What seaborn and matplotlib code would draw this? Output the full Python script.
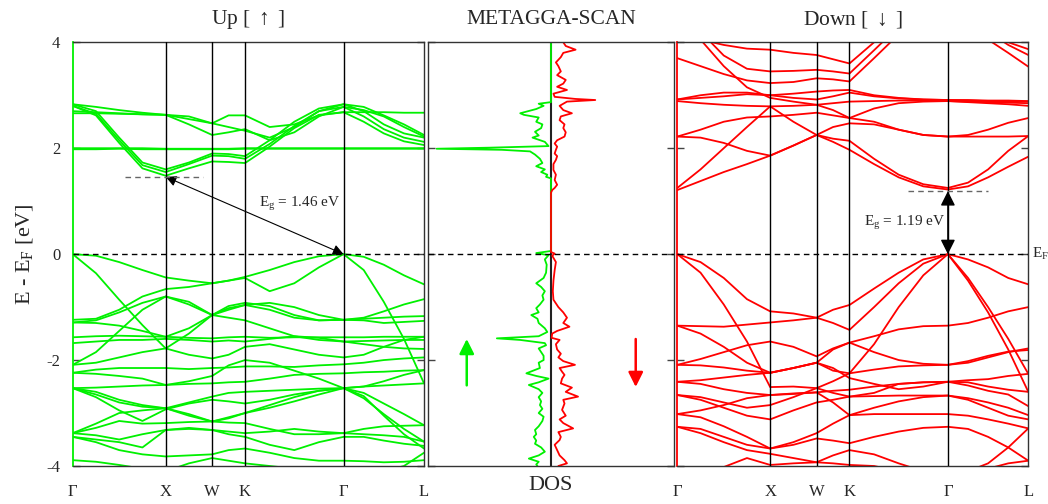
import numpy as np
import pandas as pd
import matplotlib
matplotlib.use('Agg')
import matplotlib.pyplot as plt
import seaborn as sns

# k-path (fcc, units of 2pi/a) and sampling grid used for the bands
node_k = [0.0, 1.0, 1.5, 1.854, 2.914, 3.780]
node_lab = ['Γ', 'X', 'W', 'K', 'Γ', 'L']
kpts = [0.0, 0.25, 0.5, 0.75, 1.0, 1.25, 1.5, 1.677, 1.854,
        2.119, 2.384, 2.649, 2.914, 3.131, 3.347, 3.564, 3.780]

# spin up bands (eV) at kpts
up_bands = {
    'c1': [2.80, 2.62, 2.10, 1.62, 1.48, 1.62, 1.75, 1.74, 1.72, 2.03, 2.38, 2.63, 2.68, 2.50, 2.28, 2.13, 2.06],
    'c2': [2.80, 2.65, 2.15, 1.68, 1.55, 1.70, 1.86, 1.85, 1.80, 2.08, 2.42, 2.70, 2.78, 2.60, 2.36, 2.20, 2.12],
    'c3': [2.83, 2.70, 2.20, 1.73, 1.60, 1.73, 1.90, 1.89, 1.85, 2.15, 2.50, 2.75, 2.83, 2.70, 2.45, 2.28, 2.20],
    'c4': [2.66, 2.66, 2.65, 2.64, 2.63, 2.55, 2.47, 2.62, 2.62, 2.40, 2.45, 2.62, 2.68, 2.68, 2.68, 2.67, 2.67],
    'c5': [2.70, 2.68, 2.66, 2.64, 2.63, 2.45, 2.25, 2.30, 2.36, 2.15, 2.30, 2.60, 2.78, 2.72, 2.60, 2.40, 2.22],
    'c6': [2.83, 2.78, 2.72, 2.67, 2.63, 2.60, 2.47, 2.40, 2.33, 2.20, 2.40, 2.70, 2.83, 2.78, 2.62, 2.45, 2.25],
    'f1': [2.00, 2.00, 2.00, 2.00, 1.99, 1.99, 1.99, 1.99, 2.00, 2.00, 2.00, 2.00, 2.00, 2.00, 2.00, 2.00, 2.00],
    'f2': [1.98, 1.98, 1.99, 1.98, 1.98, 1.98, 1.98, 1.98, 1.99, 1.99, 1.99, 1.99, 1.99, 1.99, 1.99, 1.99, 1.99],
    'v1': [0.00, -0.03, -0.15, -0.30, -0.44, -0.50, -0.55, -0.50, -0.43, -0.30, -0.15, -0.04, 0.00, -0.05, -0.20, -0.40, -0.57],
    'v2': [0.00, -0.36, -0.86, -1.34, -1.78, -1.50, -1.15, -1.05, -0.96, -1.05, -1.20, -1.25, -1.24, -1.20, -1.08, -0.95, -0.85],
    'v3': [-1.24, -1.22, -1.05, -0.80, -0.66, -0.62, -0.55, -0.50, -0.45, -0.70, -0.55, -0.25, 0.00, -0.30, -0.90, -1.60, -2.44],
    'v4': [-1.29, -1.25, -1.10, -0.92, -0.80, -0.95, -1.15, -0.98, -0.92, -0.98, -1.15, -1.25, -1.24, -1.25, -1.30, -1.28, -1.26],
    'v5': [-1.57, -1.55, -1.54, -1.55, -1.56, -1.58, -1.59, -1.57, -1.56, -1.58, -1.57, -1.57, -1.57, -1.57, -1.56, -1.56, -1.56],
    'v6': [-1.68, -1.65, -1.62, -1.62, -1.60, -1.62, -1.65, -1.63, -1.65, -1.60, -1.55, -1.58, -1.65, -1.64, -1.63, -1.62, -1.62],
    'v7': [-2.09, -1.85, -1.45, -1.05, -0.80, -0.90, -1.15, -1.20, -1.25, -1.40, -1.55, -1.62, -1.65, -1.70, -1.75, -1.78, -1.79],
    'v8': [-2.09, -2.05, -1.95, -1.85, -1.78, -1.90, -1.97, -1.90, -1.75, -1.70, -1.80, -1.90, -1.95, -1.90, -1.75, -1.62, -1.56],
    'v9': [-2.24, -2.18, -2.15, -2.15, -2.15, -2.17, -2.15, -2.14, -2.12, -2.12, -2.13, -2.10, -2.08, -2.05, -2.00, -1.97, -1.95],
    'v10': [-2.24, -2.26, -2.30, -2.35, -2.47, -2.45, -2.44, -2.42, -2.41, -2.35, -2.28, -2.26, -2.25, -2.23, -2.22, -2.20, -2.19],
    'v11': [-2.53, -2.52, -2.50, -2.48, -2.47, -2.40, -2.30, -2.10, -2.00, -2.05, -2.20, -2.35, -2.53, -2.50, -2.48, -2.46, -2.44],
    'v12': [-2.53, -2.60, -2.75, -2.85, -2.91, -2.80, -2.69, -2.62, -2.60, -2.58, -2.56, -2.54, -2.53, -2.62, -2.82, -3.02, -3.23],
    'v13': [-2.53, -2.70, -2.95, -3.15, -2.93, -2.82, -2.75, -2.78, -2.82, -2.75, -2.65, -2.58, -2.53, -2.72, -3.02, -3.30, -3.54],
    'v14': [-3.38, -3.20, -3.00, -2.95, -2.91, -3.05, -3.16, -3.08, -3.00, -2.90, -2.78, -2.65, -2.53, -2.68, -3.05, -3.40, -3.67],
    'v15': [-3.38, -3.28, -3.15, -3.20, -3.19, -3.17, -3.16, -3.18, -3.19, -3.30, -3.40, -3.40, -3.38, -3.40, -3.42, -3.45, -3.54],
    'v16': [-3.45, -3.50, -3.55, -3.65, -3.32, -3.28, -3.32, -3.40, -3.45, -3.60, -3.70, -3.55, -3.45, -3.45, -3.52, -3.58, -3.62],
    'v17': [-3.45, -3.55, -3.70, -3.78, -3.82, -3.80, -3.78, -3.70, -3.67, -3.75, -3.85, -3.90, -3.90, -3.91, -3.93, -3.92, -3.89],
    'v18': [-3.89, -3.92, -3.98, -4.05, -4.10, -3.95, -3.85, -3.90, -3.95, -4.00, -4.05, -4.10, -4.20, -4.20, -4.10, -4.00, -3.75],
    'v19': [-1.29, -1.30, -1.35, -1.45, -1.56, -1.40, -1.15, -1.02, -0.96, -0.92, -1.00, -1.15, -1.24, -1.22, -1.20, -1.18, -1.17],
    'v20': [-2.53, -2.65, -2.80, -2.88, -2.91, -3.02, -3.16, -3.10, -3.00, -2.85, -2.70, -2.58, -2.53, -2.50, -2.40, -2.28, -2.19],
    'v21': [-3.38, -3.42, -3.50, -3.40, -3.32, -3.30, -3.32, -3.35, -3.38, -3.35, -3.30, -3.35, -3.38, -3.30, -3.25, -3.24, -3.23],
}

# spin down bands (eV) at kpts
dn_bands = {
    'c1': [1.21, 1.38, 1.55, 1.70, 1.86, 2.05, 2.25, 2.12, 1.97, 1.70, 1.45, 1.28, 1.22, 1.28, 1.45, 1.65, 1.84],
    'c2': [1.25, 1.60, 2.00, 2.40, 2.79, 2.50, 2.25, 2.18, 2.14, 1.80, 1.50, 1.32, 1.25, 1.35, 1.60, 1.95, 2.23],
    'c3': [2.22, 2.20, 2.10, 1.95, 1.86, 2.05, 2.25, 2.40, 2.47, 2.45, 2.35, 2.25, 2.22, 2.25, 2.35, 2.48, 2.57],
    'c4': [2.22, 2.35, 2.50, 2.58, 2.60, 2.63, 2.67, 2.62, 2.57, 2.50, 2.35, 2.25, 2.22, 2.22, 2.22, 2.22, 2.23],
    'c5': [2.89, 2.85, 2.82, 2.80, 2.79, 2.80, 2.82, 2.85, 2.88, 2.89, 2.90, 2.90, 2.89, 2.87, 2.85, 2.83, 2.80],
    'c6': [2.92, 2.95, 2.98, 3.02, 3.00, 2.95, 2.92, 2.98, 3.05, 2.98, 2.94, 2.92, 2.91, 2.90, 2.89, 2.88, 2.88],
    'c7': [2.92, 3.00, 3.05, 3.05, 3.00, 3.03, 3.07, 3.09, 3.10, 3.00, 2.95, 2.92, 2.91, 2.91, 2.90, 2.90, 2.89],
    'c8': [4.60, 4.05, 3.55, 3.15, 2.95, 2.88, 2.82, 2.72, 2.57, 2.75, 2.85, 2.88, 2.89, 2.88, 2.87, 2.86, 2.85],
    'c9': [4.80, 4.20, 3.75, 3.50, 3.45, 3.46, 3.48, 3.45, 3.41, 3.85, 4.30, 4.60, 4.70, 4.40, 4.05, 3.80, 3.54],
    'c10': [4.30, 4.05, 3.95, 3.88, 3.86, 3.80, 3.76, 3.68, 3.60, 4.00, 4.40, 4.70, 4.80, 4.55, 4.20, 3.95, 3.76],
    'c11': [3.70, 3.55, 3.40, 3.28, 3.23, 3.25, 3.32, 3.30, 3.26, 3.70, 4.15, 4.50, 4.60, 4.45, 4.20, 4.00, 3.87],
    'v1': [0.00, -0.15, -0.45, -0.85, -1.08, -1.12, -1.20, -1.05, -0.96, -0.65, -0.35, -0.10, 0.00, -0.10, -0.25, -0.45, -0.57],
    'v2': [0.00, -0.35, -0.95, -1.65, -2.51, -2.50, -2.53, -2.40, -2.25, -1.70, -1.00, -0.40, 0.00, -0.50, -1.10, -1.80, -2.60],
    'v3': [-1.35, -1.36, -1.37, -1.33, -1.29, -1.25, -1.20, -1.30, -1.43, -1.00, -0.55, -0.18, 0.00, -0.45, -1.00, -1.60, -2.26],
    'v4': [-1.35, -1.50, -1.75, -2.05, -2.24, -2.15, -2.05, -1.80, -1.67, -1.55, -1.42, -1.36, -1.35, -1.30, -1.20, -1.08, -1.00],
    'v5': [-2.09, -1.98, -1.85, -1.72, -1.65, -1.75, -1.93, -1.78, -1.67, -1.85, -2.00, -2.07, -2.09, -2.02, -1.92, -1.84, -1.81],
    'v6': [-2.09, -2.10, -2.14, -2.20, -2.24, -2.15, -2.05, -2.20, -2.25, -2.18, -2.12, -2.10, -2.09, -2.05, -1.95, -1.85, -1.78],
    'v7': [-2.41, -2.45, -2.55, -2.62, -2.66, -2.64, -2.61, -2.58, -2.56, -2.50, -2.45, -2.42, -2.41, -2.48, -2.58, -2.65, -2.87],
    'v8': [-2.41, -2.38, -2.33, -2.28, -2.24, -2.15, -2.05, -2.15, -2.34, -2.45, -2.55, -2.50, -2.41, -2.38, -2.36, -2.30, -2.26],
    'v9': [-2.66, -2.75, -2.90, -3.05, -3.12, -2.95, -2.80, -2.75, -2.69, -2.68, -2.67, -2.67, -2.67, -2.72, -2.80, -2.90, -3.04],
    'v10': [-3.02, -2.95, -2.85, -2.72, -2.66, -2.63, -2.61, -2.80, -3.04, -2.90, -2.78, -2.70, -2.67, -2.75, -2.90, -3.05, -3.12],
    'v11': [-3.02, -3.08, -3.25, -3.45, -3.67, -3.55, -3.38, -3.20, -3.04, -3.02, -3.02, -3.02, -3.02, -3.05, -3.12, -3.20, -3.29],
    'v12': [-3.26, -3.30, -3.45, -3.60, -3.67, -3.60, -3.48, -3.52, -3.57, -3.45, -3.35, -3.28, -3.26, -3.30, -3.45, -3.65, -3.90],
    'v13': [-3.26, -3.38, -3.55, -3.70, -3.77, -3.85, -3.93, -3.80, -3.70, -3.78, -3.95, -4.10, -4.20, -4.10, -3.95, -3.65, -3.29],
    'v14': [-4.40, -4.20, -4.02, -3.85, -3.98, -3.95, -3.93, -3.95, -3.98, -4.00, -4.10, -4.20, -4.30, -4.20, -4.05, -3.95, -3.90],
    'v15': [-2.66, -2.70, -2.80, -2.90, -2.85, -2.70, -2.53, -2.62, -2.69, -2.62, -2.45, -2.42, -2.41, -2.42, -2.50, -2.56, -2.60],
}

# DOS, spin up drawn to the left (negative), spin down to the right
dos_up_e = [4.0, 2.87, 2.84, 2.80, 2.74, 2.66, 2.63, 2.58, 2.50, 2.45, 2.38, 2.31, 2.24, 2.20, 2.12, 2.04, 2.01, 1.99,
            1.97, 1.94, 1.88, 1.80, 1.72, 1.66, 1.60, 1.55, 1.50, 1.46, 1.43, 0.06, 0.02, -0.02, -0.10, -0.20, -0.35,
            -0.45, -0.55, -0.62, -0.70, -0.78, -0.86, -0.95, -1.02, -1.10, -1.15, -1.22, -1.30, -1.40, -1.47, -1.55,
            -1.59, -1.62, -1.68, -1.72, -1.78, -1.85, -1.92, -2.00, -2.05, -2.15, -2.25, -2.30, -2.35, -2.42, -2.47,
            -2.55, -2.62, -2.70, -2.78, -2.85, -2.92, -3.00, -3.07, -3.15, -3.25, -3.32, -3.40, -3.45, -3.52, -3.58,
            -3.65, -3.73, -3.80, -3.86, -3.92, -3.97, -4.0]
dos_up = [0, 0, -0.10, -0.06, -0.12, -0.25, -0.22, -0.10, -0.12, -0.07, -0.08, -0.13, -0.10, -0.15, -0.05, -0.02, -0.50,
          -0.93, -0.40, -0.17, -0.13, -0.09, -0.07, -0.12, -0.05, -0.08, -0.03, -0.04, 0, 0, -0.12, -0.02, -0.05,
          -0.035, -0.04, -0.06, -0.12, -0.08, -0.05, -0.07, -0.06, -0.09, -0.12, -0.10, -0.16, -0.11, -0.10, -0.05,
          -0.03, -0.10, -0.44, -0.25, -0.05, -0.04, -0.10, -0.08, -0.06, -0.06, -0.10, -0.09, -0.20, -0.12, -0.02,
          -0.10, -0.18, -0.10, -0.07, -0.10, -0.08, -0.09, -0.07, -0.10, -0.06, -0.07, -0.10, -0.13, -0.12, -0.14,
          -0.12, -0.13, -0.08, -0.05, -0.10, -0.18, -0.10, -0.12, -0.11]
dos_dn_e = [4.0, 3.93, 3.86, 3.80, 3.72, 3.62, 3.55, 3.45, 3.38, 3.29, 3.22, 3.16, 3.10, 3.03, 2.97, 2.93, 2.91, 2.88,
            2.80, 2.72, 2.66, 2.60, 2.53, 2.45, 2.38, 2.30, 2.22, 2.15, 2.09, 2.03, 1.97, 1.90, 1.85, 1.78, 1.70, 1.59,
            1.50, 1.40, 1.31, 1.25, 1.21, 1.16, 0.04, 0.01, -0.03, -0.15, -0.30, -0.50, -0.70, -0.86, -1.00, -1.10,
            -1.20, -1.30, -1.37, -1.45, -1.50, -1.58, -1.62, -1.70, -1.80, -1.88, -1.95, -2.02, -2.09, -2.15, -2.22,
            -2.28, -2.35, -2.44, -2.52, -2.60, -2.69, -2.75, -2.82, -2.94, -3.05, -3.12, -3.19, -3.29, -3.36, -3.45,
            -3.51, -3.60, -3.70, -3.80, -3.89, -3.95, -4.0]
dos_dn = [0.10, 0.12, 0.20, 0.10, 0.08, 0.04, 0.06, 0.08, 0.05, 0.12, 0.10, 0.05, 0.13, 0.02, 0.03, 0.20, 0.36, 0.13,
          0.07, 0.10, 0.17, 0.08, 0.07, 0.11, 0.10, 0.12, 0.11, 0.05, 0.03, 0.05, 0.04, 0.03, 0.05, 0.04, 0.02, 0.02,
          0.04, 0.03, 0.05, 0.03, 0.01, 0, 0, 0.03, 0.01, 0.04, 0.03, 0.02, 0.015, 0.02, 0.06, 0.10, 0.13, 0.10,
          0.15, 0.05, 0.01, 0.005, 0.07, 0.04, 0.05, 0.08, 0.06, 0.10, 0.195, 0.07, 0.09, 0.11, 0.09, 0.08, 0.17,
          0.12, 0.22, 0.10, 0.11, 0.09, 0.12, 0.07, 0.10, 0.18, 0.06, 0.08, 0.07, 0.03, 0.05, 0.07, 0.11, 0.13, 0.06]

gap_up = 1.46
gap_dn = 1.19

GREEN = '#00f000'
RED = '#ff0000'

sns.set_style('white')
plt.rcParams['font.family'] = ['Liberation Serif', 'DejaVu Serif']
plt.rcParams['mathtext.fontset'] = 'custom'
plt.rcParams['mathtext.rm'] = 'Liberation Serif'
plt.rcParams['mathtext.it'] = 'Liberation Serif:italic'
plt.rcParams['mathtext.fallback'] = 'cm'
plt.rcParams['axes.edgecolor'] = '#333333'
plt.rcParams['axes.linewidth'] = 1.0


def band_frame(bands):
    rows = []
    for name, vals in bands.items():
        for k, e in zip(kpts, vals):
            rows.append((name, k, e))
    return pd.DataFrame(rows, columns=['band', 'k', 'E'])


fig = plt.figure(figsize=(10.48, 5.04), dpi=100)
ax1 = fig.add_axes([0.0694, 0.0754, 0.3352, 0.8407])
ax2 = fig.add_axes([0.4084, 0.0754, 0.2347, 0.8407])
ax3 = fig.add_axes([0.6463, 0.0754, 0.3349, 0.8407])

for ax, bands, col, title in [(ax1, up_bands, GREEN, 'Up [ $\\uparrow$ ]'),
                              (ax3, dn_bands, RED, 'Down [ $\\downarrow$ ]')]:
    sns.lineplot(data=band_frame(bands), x='k', y='E', units='band', estimator=None,
                 sort=False, color=col, lw=1.3, ax=ax)
    for k in node_k[1:-1]:
        ax.axvline(k, color='black', lw=1.0, zorder=3)
    ax.set_xlim(node_k[0], node_k[-1])
    ax.set_xticks(node_k)
    ax.set_xticklabels(node_lab)
    ax.tick_params(axis='x', length=0, pad=13, labelsize=12)
    ax.spines['left'].set_color(col)
    ax.spines['left'].set_linewidth(1.3)
    ax.set_xlabel('')
    ax.set_title(title, fontsize=15.5, pad=13)

# DOS panel
ax2.axvline(0, color='#222222', lw=1.5)
sns.lineplot(x=dos_up, y=dos_up_e, sort=False, estimator=None, color=GREEN, lw=1.3, ax=ax2)
sns.lineplot(x=dos_dn, y=dos_dn_e, sort=False, estimator=None, color=RED, lw=1.3, ax=ax2)
ax2.set_xlim(-1, 1)
ax2.set_xticks([])
ax2.set_xlabel('DOS', fontsize=16, labelpad=7)
ax2.set_title('METAGGA-SCAN', fontsize=15.5, pad=13)
ax2.annotate('', xy=(-0.685, -1.55), xytext=(-0.685, -2.53),
             arrowprops=dict(arrowstyle='-|>', color=GREEN, lw=1.8, mutation_scale=22))
ax2.annotate('', xy=(0.689, -2.56), xytext=(0.689, -1.55),
             arrowprops=dict(arrowstyle='-|>', color=RED, lw=1.8, mutation_scale=22))

for ax in (ax1, ax2, ax3):
    ax.set_ylim(-4, 4)
    ax.set_yticks([-4, -2, 0, 2, 4])
    ax.tick_params(axis='y', direction='in', length=5, width=1, color='#444444',
                   left=True, right=True, labelsize=12, pad=9)
    ax.axhline(0, color='black', lw=1.0, ls=(0, (4, 3)), zorder=4)
    if ax is not ax1:
        ax.set_yticklabels([])
    ax.set_ylabel('')

ax1.set_yticklabels(['-4', '-2', '0', '2', '4'])
ax1.set_ylabel('E - E$_\\mathrm{F}$ [eV]', fontsize=16, labelpad=8)

# band gap markers
ax1.hlines(gap_up, 0.56, 1.40, colors='#666666', lw=1.0, linestyles=(0, (4, 3)), zorder=4)
ax1.annotate('', xy=(node_k[1], gap_up), xytext=(node_k[4], 0.0),
             arrowprops=dict(arrowstyle='<|-|>', color='black', lw=0.8, mutation_scale=16,
                             shrinkA=0, shrinkB=0))
ax1.text(2.0, 0.95, 'E$_\\mathrm{g}$ = %.2f eV' % gap_up, fontsize=11, va='center', ha='left')

ax3.hlines(gap_dn, 2.48, 3.35, colors='#666666', lw=1.0, linestyles=(0, (4, 3)), zorder=4)
ax3.annotate('', xy=(node_k[4], gap_dn), xytext=(node_k[4], 0.0),
             arrowprops=dict(arrowstyle='<|-|>', color='black', lw=1.0, mutation_scale=22,
                             shrinkA=0, shrinkB=0))
ax3.text(2.885, 0.59, 'E$_\\mathrm{g}$ = %.2f eV' % gap_dn, fontsize=11, va='center', ha='right')
ax3.text(1.01, 0.0, 'E$_\\mathrm{F}$', transform=ax3.get_yaxis_transform(), fontsize=11,
         va='center', ha='left')

fig.savefig('out.png', dpi=100)
